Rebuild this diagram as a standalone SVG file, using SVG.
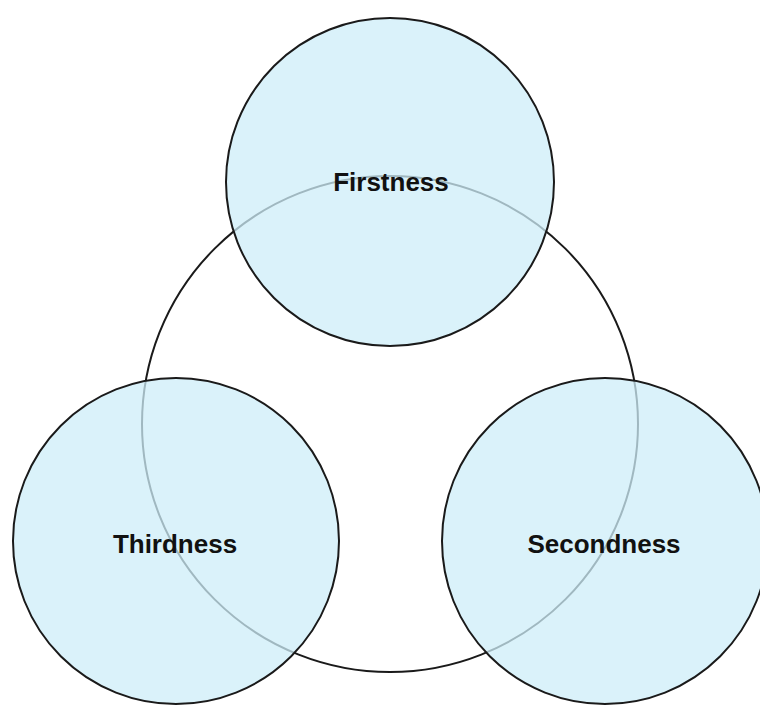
<svg xmlns="http://www.w3.org/2000/svg" width="760" height="706" viewBox="0 0 760 706">
<style>
.ring{fill:none;stroke:#1a1a1a;stroke-width:2}
.node{fill:#ceeef8;fill-opacity:0.75;stroke:#1a1a1a;stroke-width:2}
.lbl{font-family:"Liberation Sans",Arial,sans-serif;font-weight:bold;font-size:26px;fill:#111;text-anchor:middle}
</style>
<rect width="760" height="706" fill="#fff"/>
<g id="connectors">
<circle class="ring" cx="390" cy="424" r="248"/>
</g>
<g id="firstness">
<circle class="node" cx="390" cy="182" r="164"/>
<text class="lbl" x="391" y="191">Firstness</text>
</g>
<g id="thirdness">
<circle class="node" cx="176" cy="541" r="163"/>
<text class="lbl" x="175" y="553">Thirdness</text>
</g>
<g id="secondness">
<circle class="node" cx="605" cy="541" r="163"/>
<text class="lbl" x="604" y="553">Secondness</text>
</g>
</svg>
